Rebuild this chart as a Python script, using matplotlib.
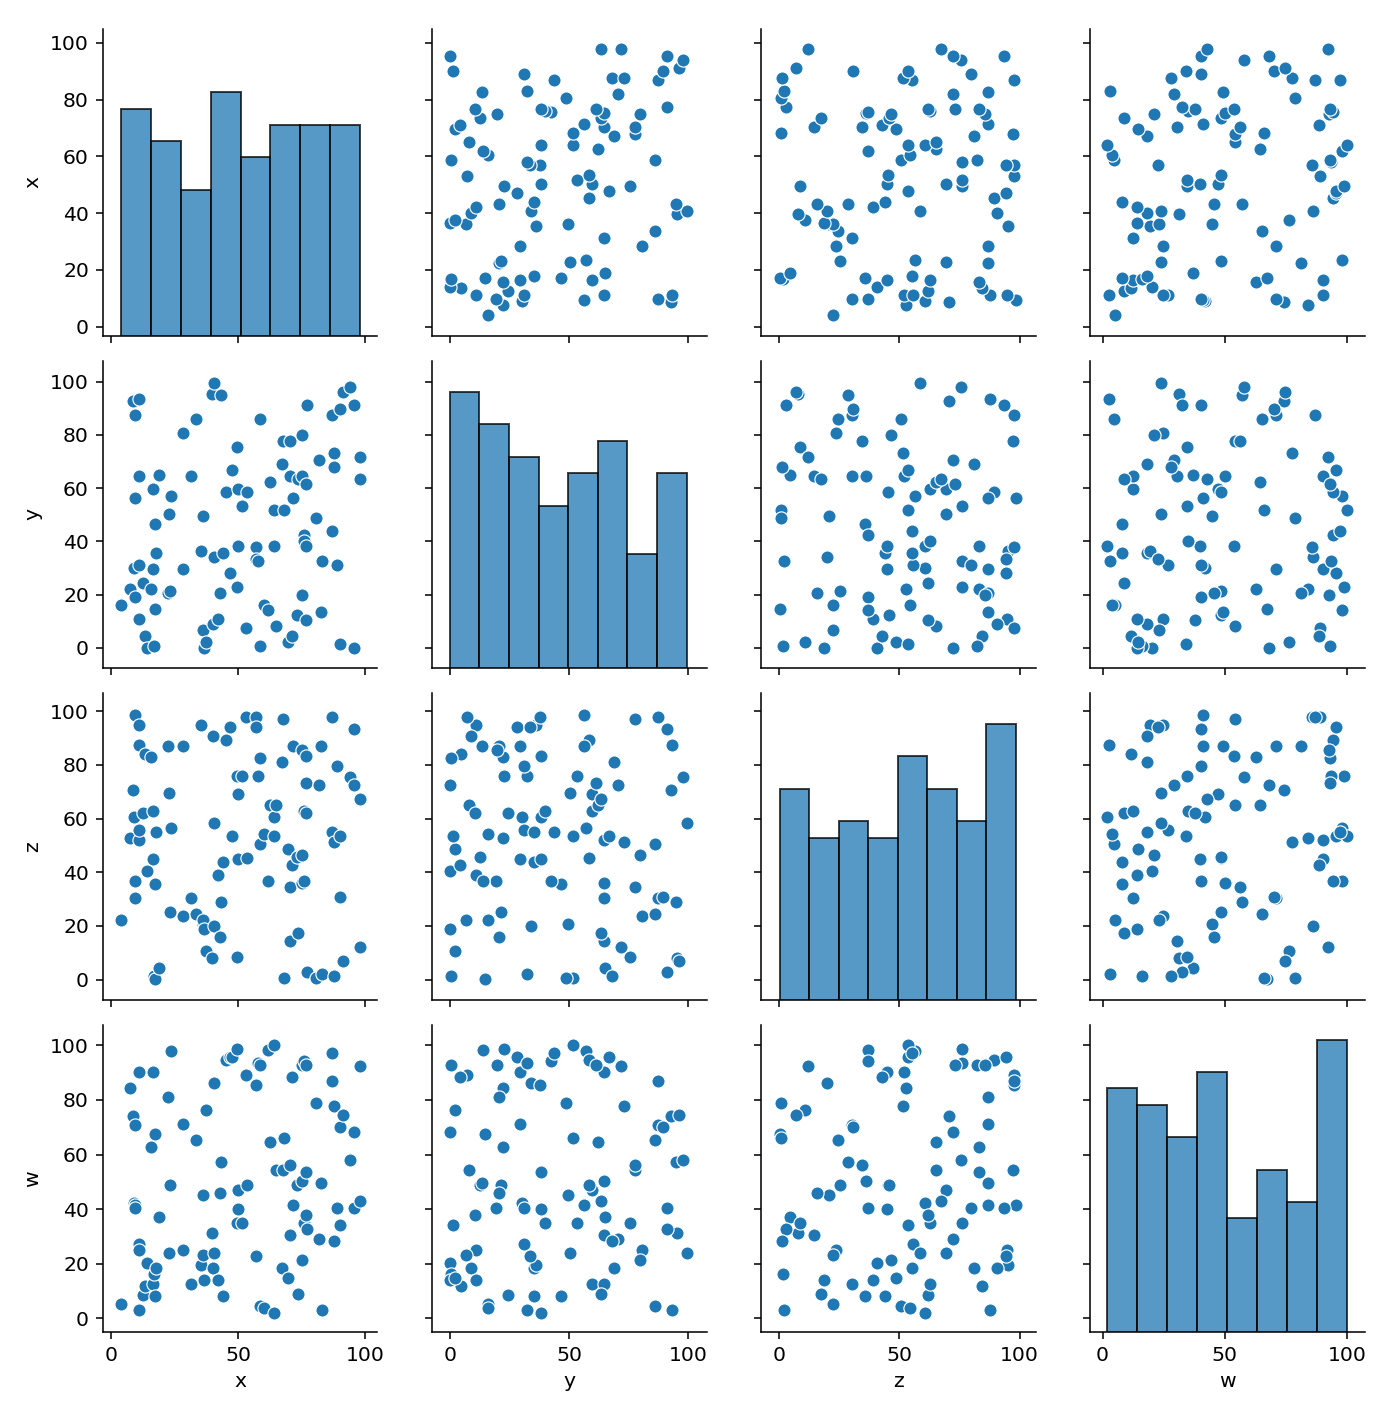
import numpy as np
import matplotlib
matplotlib.use("Agg")
import matplotlib.pyplot as plt

# values, one row per point (same order in all four lists)
x = [4.0, 7.7, 8.6, 9.2, 9.5, 9.6, 9.6, 11.1, 11.1, 11.1,
     11.2, 12.7, 13.5, 14.1, 15.9, 16.5, 16.6, 16.8, 17.2, 17.3,
     17.8, 18.8, 22.6, 22.7, 23.2, 23.6, 28.4, 28.4, 31.4, 33.6,
     35.4, 36.1, 36.1, 36.7, 37.5, 39.8, 40.0, 40.7, 40.7, 42.3,
     43.1, 43.3, 44.0, 45.4, 47.0, 47.7, 49.5, 49.5, 50.2, 50.2,
     51.7, 53.2, 53.4, 57.1, 57.1, 58.0, 58.7, 58.7, 60.4, 62.0,
     62.5, 64.1, 64.1, 65.0, 67.2, 67.9, 68.2, 69.6, 70.4, 70.4,
     71.2, 71.5, 73.4, 73.6, 75.0, 75.0, 75.2, 75.8, 75.9, 76.6,
     76.6, 76.7, 77.3, 80.6, 82.0, 82.8, 83.0, 87.0, 87.0, 87.6,
     87.7, 89.0, 90.0, 90.0, 91.3, 94.1, 95.5, 95.5, 98.0, 98.0]

y = [16.2, 22.2, 92.7, 30.1, 56.3, 87.5, 19.2, 64.5, 31.1, 11.0,
     93.4, 24.5, 4.5, 0.0, 22.2, 59.8, 29.6, 0.6, 46.7, 14.7,
     35.5, 65.1, 20.7, 50.4, 21.5, 57.0, 80.8, 29.6, 64.5, 86.0,
     36.3, 49.6, 6.6, 0.0, 2.1, 95.4, 8.8, 99.4, 34.0, 11.0,
     20.7, 94.9, 35.5, 58.5, 28.1, 66.8, 75.5, 22.8, 59.5, 38.4,
     53.2, 7.4, 58.5, 37.9, 33.5, 32.6, 86.0, 0.6, 16.2, 14.1,
     62.2, 51.7, 38.4, 8.2, 68.9, 77.8, 51.7, 2.1, 77.8, 64.5,
     4.4, 56.3, 12.5, 63.4, 80.0, 20.0, 64.5, 42.4, 40.1, 61.5,
     38.4, 10.4, 91.2, 48.8, 70.4, 13.3, 32.6, 87.5, 43.8, 68.1,
     73.3, 31.1, 89.6, 1.4, 96.2, 97.9, 91.2, 0.0, 71.9, 63.6]

z = [22.3, 52.9, 70.8, 60.7, 98.5, 30.4, 36.8, 52.0, 55.7, 94.7,
     87.6, 62.0, 84.2, 40.5, 83.1, 62.9, 44.8, 1.5, 35.5, 0.2,
     55.1, 4.3, 87.0, 69.4, 25.3, 56.4, 23.8, 87.0, 30.3, 24.5,
     95.0, 20.9, 22.3, 18.8, 10.8, 8.0, 90.6, 58.5, 20.1, 38.9,
     15.8, 28.8, 44.0, 89.2, 94.2, 53.5, 8.6, 76.0, 69.3, 44.8,
     76.0, 97.8, 45.4, 97.8, 94.2, 76.0, 50.6, 82.5, 54.4, 36.8,
     65.2, 53.5, 60.7, 65.2, 81.1, 97.2, 0.6, 48.5, 34.6, 14.4,
     42.6, 87.0, 45.6, 17.4, 46.4, 85.5, 36.1, 36.8, 62.9, 73.3,
     83.3, 62.1, 2.9, 0.6, 72.4, 87.0, 2.1, 97.8, 55.1, 1.2,
     51.4, 79.6, 30.9, 53.5, 7.0, 75.5, 93.5, 72.4, 12.2, 67.4]

w = [5.2, 84.3, 74.2, 42.1, 41.3, 71.0, 40.5, 90.1, 27.0, 24.8,
     2.8, 8.6, 11.7, 20.2, 62.8, 12.5, 90.1, 16.0, 8.0, 67.5,
     18.2, 37.1, 81.2, 23.9, 48.7, 97.9, 24.8, 71.2, 12.5, 65.3,
     19.6, 45.0, 23.3, 14.0, 76.3, 31.3, 18.4, 23.9, 86.3, 14.0,
     45.8, 57.3, 8.0, 94.5, 95.7, 95.7, 34.7, 98.8, 47.1, 39.9,
     34.7, 89.2, 48.7, 85.6, 22.6, 93.7, 4.5, 93.0, 3.7, 98.2,
     64.5, 100.0, 1.8, 54.4, 18.4, 54.4, 66.0, 14.7, 56.1, 30.4,
     88.6, 41.3, 48.7, 8.8, 21.2, 92.9, 50.1, 94.4, 35.0, 93.0,
     53.7, 37.8, 32.6, 79.0, 29.1, 49.4, 2.9, 87.1, 97.2, 28.2,
     77.7, 40.5, 70.2, 34.1, 74.6, 58.0, 40.5, 68.1, 92.3, 42.9]

names = ["x", "y", "z", "w"]
columns = [np.array(x), np.array(y), np.array(z), np.array(w)]
limits = [(-3.3, 104.9), (-7.6, 107.8), (-7.6, 106.8), (-5.1, 107.5)]

W, H = 1400, 1420
dpi = 140
plt.rcParams["font.size"] = 10.5
fig = plt.figure(figsize=(W / dpi, H / dpi), dpi=dpi)

color = "#1f77b4"
nbins = 8
# the diagonal histograms share one count scale
top_count = max(np.histogram(c, bins=nbins)[0].max() for c in columns)

for i in range(4):        # row -> variable on the y axis
    for j in range(4):    # column -> variable on the x axis
        left = (102.5 + 329.2 * j) / W
        bottom = (H - (29 + 332 * i + 307)) / H
        ax = fig.add_axes([left, bottom, 275 / W, 307 / H])
        ax.set_xlim(limits[j])
        ax.set_ylim(limits[i])
        ax.set_xticks([0, 50, 100])
        ax.set_yticks([0, 20, 40, 60, 80, 100])
        ax.spines["top"].set_visible(False)
        ax.spines["right"].set_visible(False)

        if i == j:
            hax = ax.twinx()
            hax.hist(columns[i], bins=nbins, color=color, alpha=0.75,
                     edgecolor="black", linewidth=1.0)
            hax.set_ylim(0, top_count * 1.05)
            hax.set_yticks([])
            for s in hax.spines.values():
                s.set_visible(False)
        else:
            ax.scatter(columns[j], columns[i], s=46, color=color,
                       edgecolors="white", linewidths=0.6, zorder=3)

        if j == 0:
            ax.set_ylabel(names[i])
        else:
            ax.tick_params(labelleft=False)
        if i == 3:
            ax.set_xlabel(names[j])
        else:
            ax.tick_params(labelbottom=False)

fig.savefig("out.png", dpi=dpi)
